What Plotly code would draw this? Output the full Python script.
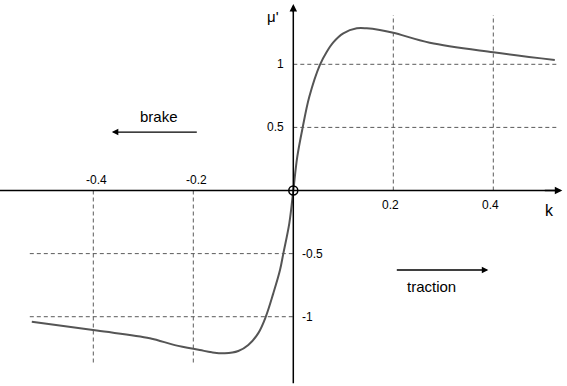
import plotly.graph_objects as go

# Tyre friction characteristic: normalised friction coefficient vs. slip
k_vals = [-0.523, -0.393, -0.287, -0.237, -0.187, -0.163, -0.137, -0.11, -0.09,
          -0.07, -0.055, -0.04, -0.0266, -0.020, -0.008, 0.0, 0.008, 0.0188,
          0.032, 0.053, 0.067, 0.08, 0.1, 0.127, 0.147, 0.173, 0.2, 0.273,
          0.4, 0.523]
mu_vals = [-1.04, -1.11, -1.17, -1.225, -1.264, -1.282, -1.29, -1.272, -1.224,
           -1.13, -1.0, -0.815, -0.63, -0.5, -0.26, 0.0, 0.268, 0.5,
           0.743, 0.994, 1.10, 1.174, 1.245, 1.285, 1.285, 1.272, 1.25, 1.171,
           1.095, 1.034]

x_ticks_neg = [-0.4, -0.2]
x_ticks_pos = [0.2, 0.4]
y_ticks_pos = [1, 0.5]
y_ticks_neg = [-0.5, -1]

x_min, x_max = -0.5866, 0.5474
y_min, y_max = -1.549, 1.5095

FONT = "Liberation Sans, Arial, sans-serif"
GRID = "#5a5a5a"
CURVE = "#555555"
DASH = "4px,3px"

fig = go.Figure()

# dashed guide lines
shapes = []
for xv in x_ticks_pos:
    shapes.append(dict(type="line", x0=xv, x1=xv, y0=0, y1=1.39,
                       line=dict(color=GRID, width=1, dash=DASH)))
for xv in x_ticks_neg:
    shapes.append(dict(type="line", x0=xv, x1=xv, y0=0, y1=-1.38,
                       line=dict(color=GRID, width=1, dash=DASH)))
for yv in y_ticks_pos:
    shapes.append(dict(type="line", x0=0, x1=0.527, y0=yv, y1=yv,
                       line=dict(color=GRID, width=1, dash=DASH)))
for yv in y_ticks_neg:
    shapes.append(dict(type="line", x0=-0.527, x1=0, y0=yv, y1=yv,
                       line=dict(color=GRID, width=1, dash=DASH)))

# axis lines
shapes.append(dict(type="line", x0=x_min, x1=0.53, y0=0, y1=0,
                   line=dict(color="black", width=1.5)))
shapes.append(dict(type="line", x0=0, x1=0, y0=-1.527, y1=1.44,
                   line=dict(color="black", width=1.5)))

fig.add_trace(go.Scatter(x=k_vals, y=mu_vals, mode="lines",
                         line=dict(color=CURVE, width=2, shape="spline", smoothing=1.0),
                         hoverinfo="skip", showlegend=False))

fig.add_trace(go.Scatter(x=[0], y=[0], mode="markers",
                         marker=dict(symbol="circle-open", size=9,
                                     color="black", line=dict(width=1.5)),
                         hoverinfo="skip", showlegend=False))

annotations = []

def arrow(x_tip, y_tip, x_tail, y_tail, width=1.5, size=1.0):
    return dict(x=x_tip, y=y_tip, ax=x_tail, ay=y_tail, xref="x", yref="y",
                axref="x", ayref="y", text="", showarrow=True, arrowhead=2,
                arrowsize=size, arrowwidth=width, arrowcolor="black")

# axis arrow heads
annotations.append(arrow(0.538, 0, 0.50, 0))
annotations.append(arrow(0, 1.478, 0, 1.40))

# direction arrows
annotations.append(arrow(-0.363, 0.463, -0.19, 0.463, width=1.3))
annotations.append(arrow(0.39, -0.63, 0.204, -0.63, width=1.3))

tick_font = dict(family=FONT, size=12, color="black")
for xv in x_ticks_neg:
    annotations.append(dict(x=xv, y=0, xref="x", yref="y", text=f"{xv:g}",
                            showarrow=False, font=tick_font,
                            xanchor="center", yanchor="bottom", xshift=3, yshift=2))
for xv in x_ticks_pos:
    annotations.append(dict(x=xv, y=0, xref="x", yref="y", text=f"{xv:g}",
                            showarrow=False, font=tick_font,
                            xanchor="center", yanchor="top", xshift=-3, yshift=-5))
for yv in y_ticks_pos:
    annotations.append(dict(x=0, y=yv, xref="x", yref="y", text=f"{yv:g}",
                            showarrow=False, font=tick_font,
                            xanchor="right", yanchor="middle", xshift=-7))
for yv in y_ticks_neg:
    annotations.append(dict(x=0, y=yv, xref="x", yref="y", text=f"{yv:g}",
                            showarrow=False, font=tick_font,
                            xanchor="left", yanchor="middle", xshift=7))

annotations.append(dict(x=0, y=1.375, xref="x", yref="y", text="μ'",
                        showarrow=False, font=dict(family=FONT, size=15, color="black"),
                        xanchor="right", yanchor="middle", xshift=-12))
annotations.append(dict(x=0.512, y=-0.155, xref="x", yref="y", text="k",
                        showarrow=False, font=dict(family=FONT, size=16, color="black"),
                        xanchor="center", yanchor="middle"))
annotations.append(dict(x=-0.268, y=0.585, xref="x", yref="y", text="brake",
                        showarrow=False, font=dict(family=FONT, size=15, color="black"),
                        xanchor="center", yanchor="middle"))
annotations.append(dict(x=0.277, y=-0.757, xref="x", yref="y", text="traction",
                        showarrow=False, font=dict(family=FONT, size=15, color="black"),
                        xanchor="center", yanchor="middle"))

fig.update_layout(
    width=567, height=386,
    margin=dict(l=0, r=0, t=0, b=0),
    paper_bgcolor="white", plot_bgcolor="white",
    xaxis=dict(range=[x_min, x_max], visible=False, fixedrange=True),
    yaxis=dict(range=[y_min, y_max], visible=False, fixedrange=True),
    shapes=shapes, annotations=annotations, showlegend=False,
)

fig.write_html("out.html")
